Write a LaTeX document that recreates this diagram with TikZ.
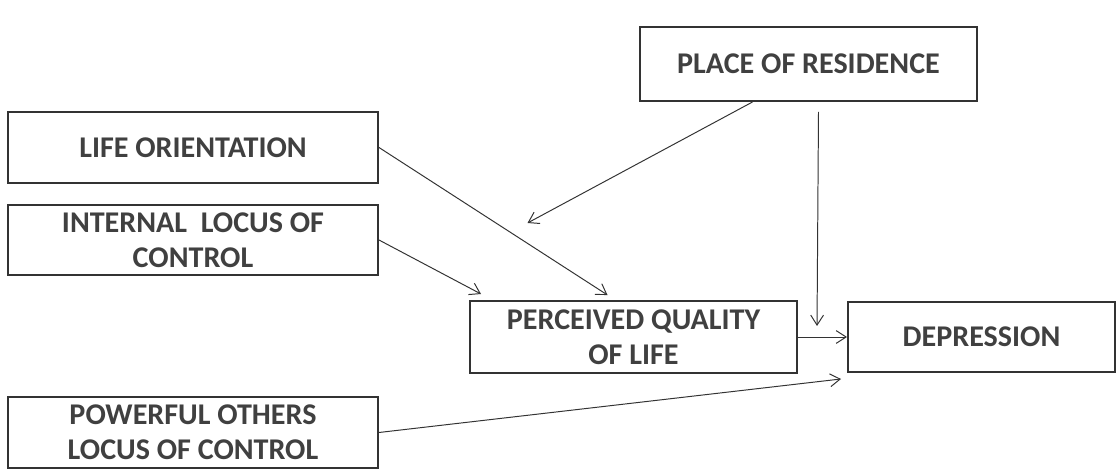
\documentclass[tikz,border=0pt]{standalone}
\usepackage{fontspec}
\setmainfont{Carlito}
\usepackage{tikz}
\usetikzlibrary{arrows.meta,calc}
\tikzset{
  var/.style={draw=black!80, line width=1.4pt, align=center, text=black!75,
    inner sep=0pt, font=\fontsize{21.4pt}{24.8pt}\selectfont\bfseries},
  arr/.style={draw=black!80, line width=0.7pt,
    -{Straight Barb[length=0.25cm, width=0.32cm, line width=0.7pt]}},
  >=Stealth
}
\begin{document}
\begin{tikzpicture}[x=0.025cm, y=-0.025cm]
  \useasboundingbox (0,0) rectangle (1119,471);
  % boxes
  \node[var, minimum width=337*0.025cm, minimum height=74*0.025cm] (place) at (808.5,64) {PLACE OF RESIDENCE};
  \node[var, minimum width=370*0.025cm, minimum height=71*0.025cm] (life) at (193,147.5) {LIFE ORIENTATION};
  \node[var, minimum width=370*0.025cm, minimum height=70*0.025cm] (intl) at (193,240) {INTERNAL\ \ LOCUS OF\\CONTROL};
  \node[var, minimum width=327*0.025cm, minimum height=72*0.025cm] (perc) at (633.5,337) {PERCEIVED QUALITY\\OF LIFE};
  \node[var, minimum width=267*0.025cm, minimum height=70*0.025cm] (dep) at (981.5,337) {DEPRESSION};
  \node[var, minimum width=370*0.025cm, minimum height=71*0.025cm] (pow) at (193,432.5) {POWERFUL OTHERS\\LOCUS OF CONTROL};
  % arrows
  \draw[arr] (life.east) -- ($(perc.north)+(-26,-5)$);
  \draw[arr] (intl.east) -- ($(perc.north west)+(12,-6)$);
  \draw[arr] ($(place.south)+(-56,0)$) -- ($(perc.north)+(-106,-77)$);
  \draw[arr] ($(place.south)+(10,10)$) -- ($(dep.west)+(-30,-11)$);
  \draw[arr] (perc.east) -- (dep.west);
  \draw[arr] (pow.east) -- ($(dep.south west)+(-6,6)$);
\end{tikzpicture}
\end{document}
